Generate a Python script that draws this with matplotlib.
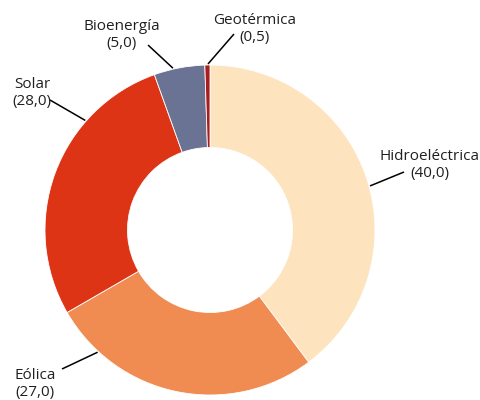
import numpy as np
import matplotlib
matplotlib.use("Agg")
import matplotlib.pyplot as plt

labels = ['Hidroeléctrica', 'Eólica', 'Solar', 'Bioenergía', 'Geotérmica']
values = [40.0, 27.0, 28.0, 5.0, 0.5]
colors = ['#FDE4BF', '#F08B51', '#DC3415', '#6B7394', '#A91D1E']

# label placement (pixel layout): text centre, line end near text, anchor angle on ring
text_pos = [(430, 165), (35, 384), (32, 93), (122, 35), (255, 29)]
line_end = [(404, 172), (62, 369), (50, 100), (148, 45), (234, 34)]
anchor_deg = [15.4, -132.6, 138.7, 102.9, 90.7]

W, H = 481, 400
cx, cy, R = 210, 400 - 230, 165

plt.rcParams['font.family'] = ['Open Sans', 'DejaVu Sans']

fig = plt.figure(figsize=(W / 100, H / 100), dpi=100)
ax = fig.add_axes([0, 0, 1, 1])

ax.pie(values, colors=colors, startangle=90, counterclock=False,
       center=(cx, cy), radius=R,
       wedgeprops=dict(width=R * 0.5, edgecolor='white', linewidth=0.6))

ax.set_xlim(0, W)
ax.set_ylim(0, H)
ax.set_aspect('equal')
ax.axis('off')

for lab, val, tp, le, ang in zip(labels, values, text_pos, line_end, anchor_deg):
    a = np.deg2rad(ang)
    x0 = cx + (R + 1) * np.cos(a)
    y0 = cy + (R + 1) * np.sin(a)
    ax.plot([x0, le[0]], [y0, H - le[1]], color='black', lw=1.1,
            solid_capstyle='butt')
    txt = f"{lab}\n({val:.1f})".replace('.', ',')
    ax.text(tp[0], H - tp[1], txt, ha='center', va='center',
            fontsize=11, color='#231F20', linespacing=1.2)

fig.savefig('out.png', dpi=100)
